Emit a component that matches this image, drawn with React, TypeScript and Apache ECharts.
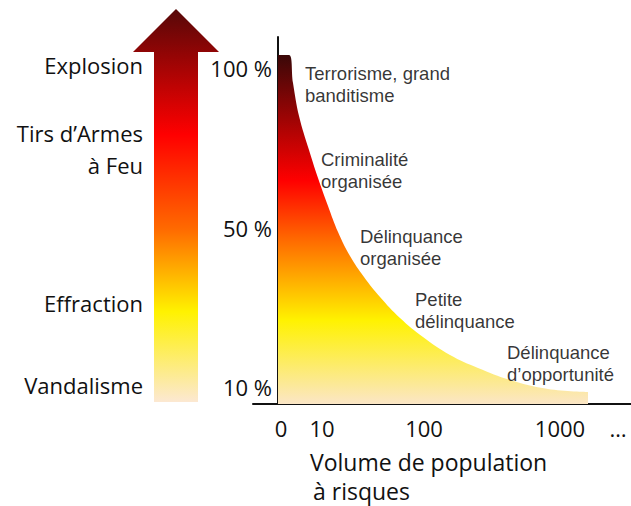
import React, { useEffect, useRef } from "react";
import * as echarts from "echarts";

// Curve: horizontal position (volume of population, schematic units) vs severity (schematic units)
const curveX = [0, 11, 15, 21, 31, 40, 50, 60, 72, 86, 102, 122, 145, 172, 200, 232, 270, 310];
const curveY = [349, 349, 321, 288, 254, 226, 198, 172, 148, 127, 107, 86, 67, 49, 36, 24, 15, 12];

// Category annotations on the curve (x, y = top-left of text block)
const annotationNames = [
  "Terrorisme, grand\nbanditisme",
  "Criminalité\norganisée",
  "Délinquance\norganisée",
  "Petite\ndélinquance",
  "Délinquance\nd’opportunité",
];
const annotationX = [27, 43, 82, 137, 229];
const annotationY = [342, 256, 179, 116, 63];

// Axis ticks
const xTickValues = [3, 44, 146, 282, 340];
const xTickLabels = ["0", "10", "100", "1000", "…"];
const yTickValues = [17, 176, 336];
const yTickLabels = ["10 %", "50 %", "100 %"];

// Arrow scale labels
const arrowLabels = ["Explosion", "Tirs d’Armes", "à Feu", "Effraction", "Vandalisme"];

const AXIS_FONT = "'Open Sans', sans-serif";
const NOTE_FONT = "'Liberation Sans', Arial, sans-serif";

export default function App() {
  const ref = useRef<HTMLDivElement>(null);

  useEffect(() => {
    if (!ref.current) return;
    const chart = echarts.init(ref.current, undefined, { renderer: "svg" });

    const areaGradient = new echarts.graphic.LinearGradient(0, 0, 0, 1, [
      { offset: 0, color: "#3a0808" },
      { offset: 0.36, color: "#ff0000" },
      { offset: 0.53, color: "#ff6a00" },
      { offset: 0.76, color: "#fff200" },
      { offset: 1, color: "#fbe6c6" },
    ]);
    const arrowGradient = new echarts.graphic.LinearGradient(0, 0, 0, 1, [
      { offset: 0, color: "#560808" },
      { offset: 0.32, color: "#ff0000" },
      { offset: 0.56, color: "#ff6a00" },
      { offset: 0.77, color: "#fff200" },
      { offset: 1, color: "#fce8d2" },
    ]);

    const arrowLabelY = [65, 133, 165, 303, 385];

    chart.setOption({
      animation: false,
      grid: { left: 253, right: 0, top: 37, bottom: 102 },
      xAxis: {
        type: "value",
        min: -25,
        max: 353,
        axisLine: { show: true, onZero: false, lineStyle: { color: "#111", width: 2 } },
        axisTick: { show: false },
        splitLine: { show: false },
        axisLabel: {
          customValues: xTickValues,
          margin: 13,
          fontFamily: AXIS_FONT,
          fontSize: 22,
          color: "#111",
          formatter: (v: number) => {
            const i = xTickValues.indexOf(v);
            return i >= 0 ? xTickLabels[i] : "";
          },
        },
      },
      yAxis: {
        type: "value",
        min: 0,
        max: 367,
        offset: -25,
        axisLine: { show: true, onZero: false, lineStyle: { color: "#111", width: 2 } },
        axisTick: { show: false },
        splitLine: { show: false },
        axisLabel: {
          customValues: yTickValues,
          margin: 6,
          fontFamily: AXIS_FONT,
          fontSize: 22,
          color: "#111",
          formatter: (v: number) => {
            const i = yTickValues.indexOf(v);
            return i >= 0 ? yTickLabels[i] : "";
          },
        },
      },
      series: [
        {
          type: "line",
          data: curveX.map((x, i) => [x, curveY[i]]),
          smooth: 0.4,
          symbol: "none",
          lineStyle: { width: 0 },
          areaStyle: { color: areaGradient, opacity: 1 },
          silent: true,
          z: 1,
        },
        {
          type: "scatter",
          symbolSize: 1,
          itemStyle: { color: "rgba(0,0,0,0)" },
          silent: true,
          data: annotationNames.map((n, i) => ({ name: n, value: [annotationX[i], annotationY[i]] })),
          label: {
            show: true,
            position: "inside",
            align: "left",
            verticalAlign: "top",
            formatter: (p: any) => p.name,
            fontFamily: NOTE_FONT,
            fontSize: 18.5,
            lineHeight: 22,
            color: "#000",
          },
          z: 3,
        },
      ],
      graphic: [
        {
          type: "polygon",
          shape: {
            points: [
              [176, 9],
              [219, 52],
              [198, 52],
              [198, 402],
              [154, 402],
              [154, 52],
              [133, 52],
            ],
          },
          style: { fill: arrowGradient },
          silent: true,
        },
        ...arrowLabels.map((t, i) => ({
          type: "text",
          x: 143,
          y: arrowLabelY[i],
          style: {
            text: t,
            fontFamily: AXIS_FONT,
            fontSize: 22,
            fill: "#111",
            align: "right",
            verticalAlign: "middle",
          },
          silent: true,
        })),
        {
          type: "text",
          x: 310,
          y: 462,
          style: {
            text: "Volume de population",
            fontFamily: AXIS_FONT,
            fontSize: 23,
            fill: "#111",
            align: "left",
            verticalAlign: "middle",
          },
          silent: true,
        },
        {
          type: "text",
          x: 313,
          y: 491,
          style: {
            text: "à risques",
            fontFamily: AXIS_FONT,
            fontSize: 23,
            fill: "#111",
            align: "left",
            verticalAlign: "middle",
          },
          silent: true,
        },
      ],
    });

    return () => chart.dispose();
  }, []);

  return (
    <div
      ref={ref}
      style={{ position: "fixed", left: 0, top: 0, width: 631, height: 506, background: "#fff" }}
    />
  );
}
